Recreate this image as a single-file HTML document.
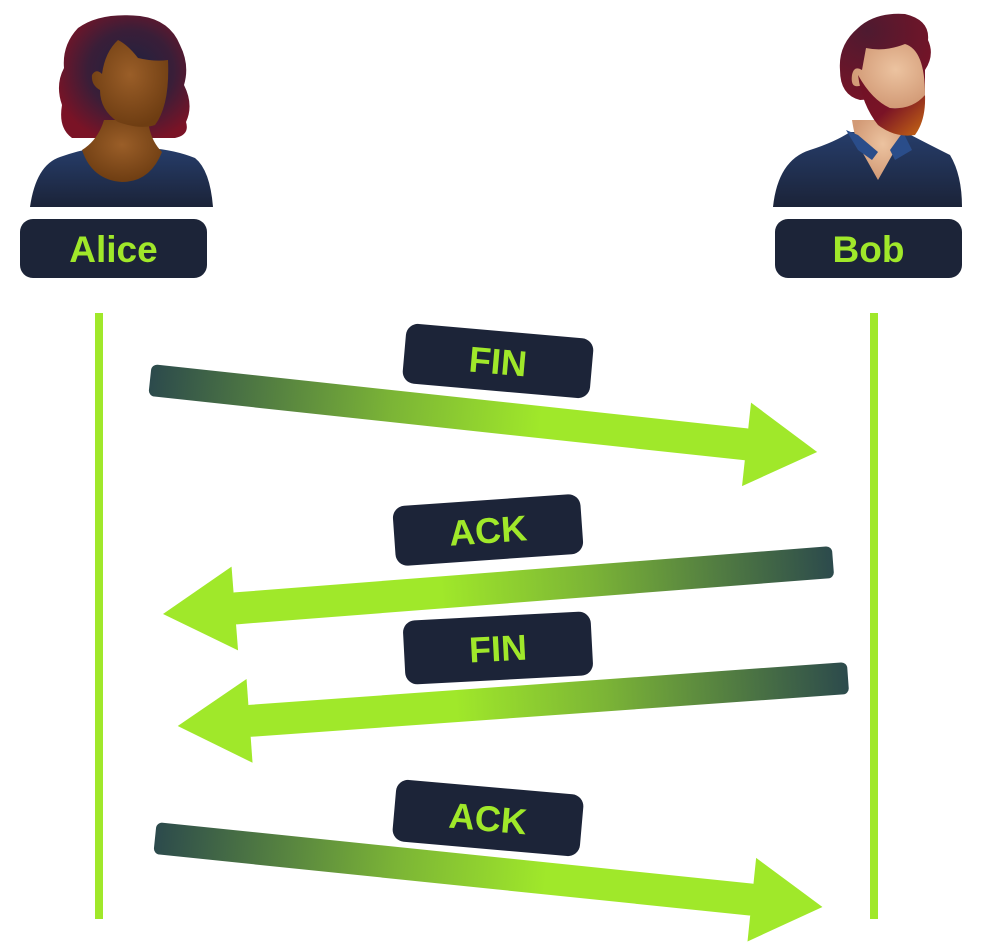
<!DOCTYPE html>
<html><head><meta charset="utf-8"><style>
html,body{margin:0;padding:0;background:#fff;}
svg{display:block;}
text{font-family:"Liberation Sans",sans-serif;font-weight:bold;fill:#a0e82a;}
</style></head><body>
<svg width="981" height="949" viewBox="0 0 981 949" xmlns="http://www.w3.org/2000/svg">
<defs>
<linearGradient id="ag" x1="0" y1="0" x2="1" y2="0">
<stop offset="0" stop-color="#2c4a4c"/>
<stop offset="0.4" stop-color="#7bb436"/>
<stop offset="0.65" stop-color="#a0e82a"/>
<stop offset="1" stop-color="#a0e82a"/>
</linearGradient>
<radialGradient id="hairA" cx="0.55" cy="0.45" r="0.6">
<stop offset="0" stop-color="#1e2240"/><stop offset="0.55" stop-color="#3a1e38"/><stop offset="1" stop-color="#7a1326"/>
</radialGradient>
<radialGradient id="hairB" cx="0.3" cy="0.2" r="0.9">
<stop offset="0" stop-color="#4e1a30"/><stop offset="1" stop-color="#7a1326"/>
</radialGradient>
<radialGradient id="skinA" cx="0.5" cy="0.4" r="0.6">
<stop offset="0" stop-color="#9a5e28"/><stop offset="1" stop-color="#6e3d12"/>
</radialGradient>
<radialGradient id="skinB" cx="0.6" cy="0.4" r="0.6">
<stop offset="0" stop-color="#ecc3a0"/><stop offset="1" stop-color="#d29a76"/>
</radialGradient>
<linearGradient id="beard" x1="0" y1="0" x2="1" y2="1">
<stop offset="0" stop-color="#6e1226"/><stop offset="0.5" stop-color="#7a1326"/><stop offset="1" stop-color="#c86a12"/>
</linearGradient>
<linearGradient id="shirt" x1="0" y1="0" x2="0" y2="1">
<stop offset="0" stop-color="#263d6a"/><stop offset="1" stop-color="#1b2338"/>
</linearGradient>
</defs>

<!-- Alice -->
<path d="M78,28 Q100,12 140,16 Q170,20 180,45 Q190,65 184,85 Q194,105 186,122 Q190,135 175,138 L72,138 Q58,128 62,105 Q55,85 64,68 Q62,45 78,28Z" fill="url(#hairA)"/>
<path d="M30,207 Q36,165 60,157 Q80,150 95,148 L150,148 Q175,150 195,158 Q210,170 213,207Z" fill="url(#shirt)"/>
<path d="M82,150 Q98,140 104,120 L148,120 Q150,140 162,152 Q150,182 122,182 Q92,180 82,150Z" fill="url(#skinA)"/>
<path d="M118,40 Q128,45 138,58 Q155,62 168,60 Q170,105 155,125 Q140,130 118,122 Q100,110 100,90 Q91,85 92,75 Q96,68 102,74 Q105,52 118,40Z" fill="url(#skinA)"/>
<rect x="20" y="219" width="187" height="59" rx="13" fill="#1c2438"/>
<text x="113.5" y="262" font-size="37" text-anchor="middle">Alice</text>

<!-- Bob -->
<path d="M773,207 Q778,160 810,150 Q835,142 850,132 L905,132 Q930,145 950,155 Q962,175 962,207Z" fill="url(#shirt)"/>
<path d="M852,120 Q855,140 860,148 L878,180 L895,150 Q905,140 903,120Z" fill="url(#skinB)"/>
<path d="M846,130 L858,150 L872,160 L878,152 L858,135Z" fill="#2a4d8a"/>
<path d="M903,132 L912,150 L895,160 L890,150Z" fill="#2a4d8a"/>
<path d="M858,28 Q875,12 905,14 Q930,20 928,40 Q935,55 925,70 L925,95 L860,100 Q840,95 840,70 Q838,45 858,28Z" fill="url(#hairB)"/>
<path d="M866,48 Q885,52 905,44 Q925,50 925,95 Q915,110 890,108 Q872,100 862,85 Q850,90 852,75 Q854,65 862,70Z" fill="url(#skinB)"/>
<path d="M858,75 Q862,105 878,125 Q895,138 915,135 Q926,120 925,95 Q912,110 890,108 Q872,100 858,75Z" fill="url(#beard)"/>
<rect x="775" y="219" width="187" height="59" rx="13" fill="#1c2438"/>
<text x="868.5" y="262" font-size="37" text-anchor="middle">Bob</text>

<!-- lifelines -->
<rect x="95" y="313" width="8" height="606" fill="#a0e82a"/>
<rect x="870" y="313" width="8" height="606" fill="#a0e82a"/>

<!-- Arrow 1 FIN right -->
<g transform="translate(150,380) rotate(6.16)">
<rect x="0" y="-16" width="605" height="32" rx="6" fill="url(#ag)"/>
<polygon points="600,-42 671,0 600,42" fill="#a0e82a"/>
</g>
<g transform="translate(498,361) rotate(5)">
<rect x="-94" y="-30" width="188" height="60" rx="12" fill="#1c2438"/>
<text x="0" y="13" font-size="36" text-anchor="middle">FIN</text>
</g>

<!-- Arrow 2 ACK left -->
<g transform="translate(833,562) rotate(175.56)">
<rect x="0" y="-16" width="605" height="32" rx="6" fill="url(#ag)"/>
<polygon points="600,-42 672,0 600,42" fill="#a0e82a"/>
</g>
<g transform="translate(488,530) rotate(-4)">
<rect x="-94" y="-30" width="188" height="60" rx="12" fill="#1c2438"/>
<text x="0" y="13" font-size="36" text-anchor="middle">ACK</text>
</g>

<!-- Arrow 3 FIN left -->
<g transform="translate(848,678) rotate(175.9)">
<rect x="0" y="-16" width="605" height="32" rx="6" fill="url(#ag)"/>
<polygon points="600,-42 672,0 600,42" fill="#a0e82a"/>
</g>
<g transform="translate(498,648) rotate(-3)">
<rect x="-94" y="-32" width="188" height="64" rx="12" fill="#1c2438"/>
<text x="0" y="13" font-size="36" text-anchor="middle">FIN</text>
</g>

<!-- Arrow 4 ACK right -->
<g transform="translate(155,838) rotate(5.9)">
<rect x="0" y="-16" width="605" height="32" rx="6" fill="url(#ag)"/>
<polygon points="600,-42 671,0 600,42" fill="#a0e82a"/>
</g>
<g transform="translate(488,818) rotate(5)">
<rect x="-94" y="-31" width="188" height="62" rx="12" fill="#1c2438"/>
<text x="0" y="13" font-size="36" text-anchor="middle">ACK</text>
</g>
</svg>
</body></html>
